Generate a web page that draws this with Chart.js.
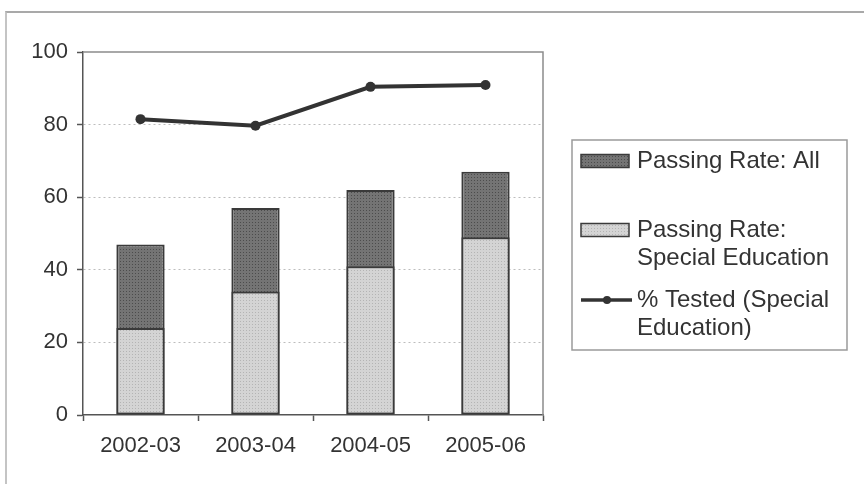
<!DOCTYPE html>
<html>
<head>
<meta charset="utf-8">
<script src="https://cdn.jsdelivr.net/npm/chart.js@4/dist/chart.umd.min.js"></script>
<style>
  html, body { margin: 0; padding: 0; background: #fff; }
  #wrap { position: relative; width: 864px; height: 484px; overflow: hidden; }
  #frame { position: absolute; left: 5px; top: 11px; right: -4px; bottom: -4px;
           border-top: 2px solid #a9a9a9; border-left: 2px solid #c4c4c4; }
  canvas { position: absolute; left: 0; top: 0; }
</style>
</head>
<body>
<div id="wrap">
  <div id="frame"></div>
  <canvas id="c" width="864" height="484"></canvas>
</div>
<script>
// School years on the category axis
const years = ['2002-03', '2003-04', '2004-05', '2005-06'];
// Passing rate for all students (%)
const passAll = [47, 57, 62, 67];
// Passing rate for special education students (%)
const passSpecEd = [24, 34, 41, 49];
// Share of special education students tested (%)
const testedSpecEd = [81.5, 79.7, 90.4, 90.9];
// Value axis ticks
const yTicks = [0, 20, 40, 60, 80, 100];

const FONT = "'Liberation Sans', Arial, sans-serif";
const TEXT = '#333333';

// Small stippled fills, like a printed halftone
function stipple(base, dot) {
  const t = document.createElement('canvas');
  t.width = 3; t.height = 3;
  const g = t.getContext('2d');
  g.fillStyle = base; g.fillRect(0, 0, 3, 3);
  g.fillStyle = dot; g.fillRect(0, 0, 1, 1);
  return g.createPattern(t, 'repeat');
}
const ctx = document.getElementById('c').getContext('2d');
const darkFill = stipple('#747474', '#4c4c4c');
const lightFill = stipple('#d4d4d4', '#b4b4b4');

// Boxed legend at the right, with wrapped labels
const boxLegend = {
  id: 'boxLegend',
  afterDraw(chart) {
    const c = chart.ctx;
    const x0 = 572, y0 = 140, w = 275, h = 210;
    c.save();
    c.fillStyle = '#fff';
    c.fillRect(x0, y0, w, h);
    c.strokeStyle = '#9a9a9a'; c.lineWidth = 1.5;
    c.strokeRect(x0, y0, w, h);
    c.font = '24px ' + FONT;
    c.fillStyle = TEXT;
    c.textBaseline = 'middle';
    const items = [
      { kind: 'bar', fill: darkFill, lines: ['Passing Rate: All'], y: 161 },
      { kind: 'bar', fill: lightFill, lines: ['Passing Rate:', 'Special Education'], y: 230 },
      { kind: 'line', lines: ['% Tested (Special', 'Education)'], y: 300 }
    ];
    items.forEach(it => {
      if (it.kind === 'bar') {
        c.fillStyle = it.fill;
        c.fillRect(581, it.y - 6.5, 48, 13);
        c.strokeStyle = '#3a3a3a'; c.lineWidth = 1.5;
        c.strokeRect(581, it.y - 6.5, 48, 13);
      } else {
        c.strokeStyle = '#333'; c.lineWidth = 3.5;
        c.beginPath(); c.moveTo(581, it.y); c.lineTo(632, it.y); c.stroke();
        c.fillStyle = '#333';
        c.beginPath(); c.arc(607, it.y, 4, 0, Math.PI * 2); c.fill();
      }
      c.fillStyle = TEXT;
      it.lines.forEach((t, i) => c.fillText(t, 637, it.y + i * 28));
    });
    c.restore();
  }
};

// Plot-area border on the top and right sides
const plotFrame = {
  id: 'plotFrame',
  beforeDatasetsDraw(chart) {
    const a = chart.chartArea, c = chart.ctx;
    c.save();
    c.strokeStyle = '#8c8c8c'; c.lineWidth = 1.5;
    c.beginPath();
    c.moveTo(a.left, a.top); c.lineTo(a.right, a.top); c.lineTo(a.right, a.bottom);
    c.stroke();
    c.restore();
  }
};

new Chart(ctx, {
  data: {
    labels: years,
    datasets: [
      {
        type: 'line', label: '% Tested (Special Education)', data: testedSpecEd,
        borderColor: '#333', borderWidth: 4, tension: 0,
        pointRadius: 5, pointBackgroundColor: '#333', pointBorderWidth: 0,
        order: 0
      },
      {
        type: 'bar', label: 'Passing Rate: Special Education', data: passSpecEd,
        backgroundColor: lightFill, borderColor: '#3a3a3a', borderWidth: 2,
        borderSkipped: false, categoryPercentage: 0.84, barPercentage: 0.5,
        order: 1
      },
      {
        type: 'bar', label: 'Passing Rate: All', data: passAll,
        backgroundColor: darkFill, borderColor: '#3a3a3a', borderWidth: 2,
        borderSkipped: false, categoryPercentage: 0.84, barPercentage: 0.5,
        order: 2
      }
    ]
  },
  options: {
    responsive: false,
    animation: false,
    layout: { padding: { left: 0, top: 52, right: 321, bottom: 0 } },
    plugins: { legend: { display: false }, tooltip: { enabled: false }, title: { display: false } },
    scales: {
      x: {
        stacked: true,
        afterFit(s) { s.height = 69; },
        grid: { drawOnChartArea: false, drawTicks: true, tickLength: 6, tickColor: '#555', tickWidth: 1.5, offset: true },
        border: { display: true, color: '#555', width: 1.5 },
        ticks: { color: TEXT, font: { family: FONT, size: 22 }, padding: 12, maxRotation: 0 }
      },
      y: {
        stacked: false,
        min: 0, max: 100,
        afterFit(s) { s.width = 83; },
        afterBuildTicks(s) { s.ticks = yTicks.map(v => ({ value: v })); },
        grid: {
          color: ctx => (ctx.tick && (ctx.tick.value === 0 || ctx.tick.value === 100)) ? 'rgba(0,0,0,0)' : '#bdbdbd',
          lineWidth: 1, drawTicks: true, tickLength: 6, tickColor: '#555', tickWidth: 1.5, tickBorderDash: []
        },
        border: { display: true, color: '#555', width: 1.5, dash: [2, 3] },
        ticks: { color: TEXT, font: { family: FONT, size: 22 }, padding: 9 }
      }
    }
  },
  plugins: [plotFrame, boxLegend]
});
</script>
</body>
</html>
